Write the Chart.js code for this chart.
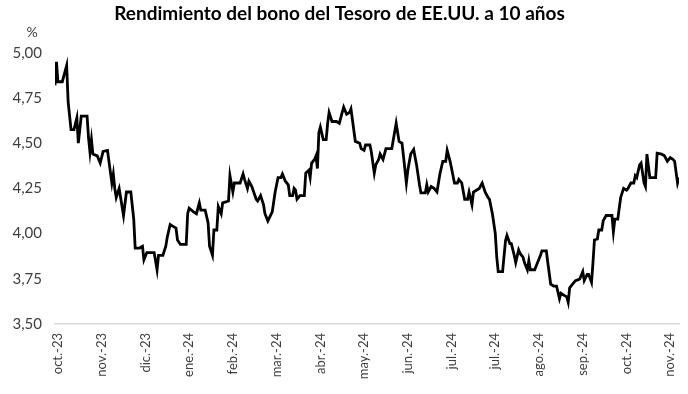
<!DOCTYPE html>
<html lang="es">
<head>
<meta charset="utf-8">
<title>Rendimiento del bono del Tesoro de EE.UU. a 10 años</title>
<script src="https://cdn.jsdelivr.net/npm/chart.js@4.4.1/dist/chart.umd.min.js"></script>
<style>
  html, body { margin: 0; padding: 0; background: #ffffff; }
  #wrap { width: 688px; height: 394px; }
</style>
</head>
<body>
<div id="wrap"><canvas id="yieldChart" width="688" height="394"></canvas></div>
<script>
/* ---------- DATA ---------- */
// days counted from the first axis label (oct.-23), one tick label every 30 days
const tickLabels = ["oct.-23", "nov.-23", "dic.-23", "ene.-24", "feb.-24", "mar.-24", "abr.-24",
  "may.-24", "jun.-24", "jul.-24", "jul.-24", "ago.-24", "sep.-24", "oct.-24", "nov.-24"];
const tickStep = 30;

const days = [-2, -1, 0, 3, 6, 7, 9, 11, 13, 14, 16, 20, 21, 22, 23, 24, 27, 29, 31, 34,
  36, 37, 38, 39, 40, 42, 43, 45, 47, 50, 52, 53, 56, 58, 59, 61, 66, 68, 69, 72,
  74, 75, 77, 79, 81, 82, 84, 88, 89, 90, 93, 95, 97, 98, 101, 103, 104, 106, 107, 109,
  110, 112, 113, 117, 118, 120, 121, 125, 127, 128, 130, 131, 133, 136, 137, 139, 141, 142, 144, 147,
  149, 151, 153, 154, 156, 158, 159, 161, 162, 163, 164, 166, 169, 170, 172, 173, 174, 176, 177, 178,
  179, 180, 182, 184, 185, 186, 188, 191, 193, 195, 196, 198, 200, 201, 202, 204, 207, 208, 210, 211,
  214, 215, 217, 218, 220, 221, 223, 225, 229, 232, 234, 236, 237, 239, 240, 242, 244, 246, 248, 249,
  252, 253, 254, 256, 258, 260, 262, 264, 266, 267, 269, 270, 272, 274, 275, 277, 279, 281, 282, 284,
  285, 287, 289, 291, 293, 295, 296, 298, 300, 301, 302, 305, 307, 308, 310, 311, 313, 314, 316, 317,
  319, 320, 322, 323, 324, 327, 329, 331, 332, 335, 336, 338, 340, 342, 344, 345, 347, 349, 350, 351,
  353, 355, 357, 358, 360, 361, 363, 364, 366, 367, 368, 370, 371, 373, 374, 376, 377, 380, 381, 382,
  384, 386, 388, 390, 391, 393, 395, 396, 397, 399, 400, 402, 403, 404, 406, 410, 411, 414, 416, 418,
  420, 422, 423, 425, 426];

const yields = [4.82, 4.95, 4.84, 4.84, 4.93, 4.73, 4.575, 4.575, 4.64, 4.50, 4.65, 4.65, 4.53, 4.45, 4.52, 4.44, 4.43, 4.39, 4.455, 4.46,
  4.34, 4.28, 4.33, 4.25, 4.20, 4.25, 4.20, 4.10, 4.23, 4.23, 4.08, 3.92, 3.92, 3.93, 3.855, 3.895, 3.895, 3.80, 3.88, 3.88,
  3.93, 3.98, 4.05, 4.04, 4.03, 3.965, 3.94, 3.94, 4.11, 4.14, 4.12, 4.11, 4.17, 4.13, 4.13, 4.06, 3.93, 3.88, 4.02, 4.02,
  4.15, 4.11, 4.17, 4.18, 4.32, 4.23, 4.28, 4.28, 4.33, 4.30, 4.25, 4.29, 4.26, 4.19, 4.18, 4.21, 4.16, 4.11, 4.07, 4.12,
  4.23, 4.31, 4.31, 4.33, 4.29, 4.27, 4.21, 4.21, 4.25, 4.24, 4.19, 4.21, 4.21, 4.335, 4.35, 4.31, 4.39, 4.41, 4.43, 4.36,
  4.56, 4.59, 4.52, 4.52, 4.61, 4.67, 4.62, 4.62, 4.61, 4.67, 4.70, 4.66, 4.67, 4.69, 4.63, 4.51, 4.50, 4.47, 4.46, 4.49,
  4.49, 4.45, 4.335, 4.38, 4.41, 4.44, 4.41, 4.47, 4.47, 4.61, 4.51, 4.50, 4.43, 4.28, 4.35, 4.44, 4.465, 4.38, 4.27, 4.225,
  4.225, 4.27, 4.23, 4.26, 4.25, 4.23, 4.33, 4.40, 4.40, 4.46, 4.40, 4.36, 4.28, 4.28, 4.30, 4.28, 4.19, 4.19, 4.23, 4.16,
  4.23, 4.24, 4.25, 4.28, 4.23, 4.20, 4.19, 4.11, 4.00, 3.87, 3.79, 3.79, 3.96, 3.99, 3.945, 3.945, 3.88, 3.84, 3.91, 3.89,
  3.87, 3.84, 3.80, 3.85, 3.80, 3.80, 3.84, 3.88, 3.905, 3.905, 3.84, 3.72, 3.71, 3.71, 3.64, 3.67, 3.66, 3.65, 3.62, 3.70,
  3.72, 3.74, 3.745, 3.75, 3.79, 3.74, 3.775, 3.775, 3.73, 3.84, 3.965, 3.97, 4.02, 4.02, 4.07, 4.10, 4.10, 4.10, 4.01, 4.08,
  4.08, 4.20, 4.25, 4.24, 4.25, 4.28, 4.28, 4.32, 4.31, 4.38, 4.39, 4.28, 4.26, 4.44, 4.31, 4.31, 4.445, 4.44, 4.43, 4.40,
  4.42, 4.41, 4.40, 4.28, 4.31];

const yMin = 3.5;
const yMax = 5.0;
const yStep = 0.25;

/* ---------- CHART ---------- */
const textColor = "#404040";
const fontFamily = "Lato, 'Open Sans', sans-serif";

// small "%" unit label above the y axis
const unitLabel = {
  id: "unitLabel",
  afterDraw(chart) {
    const ctx = chart.ctx;
    const y = chart.scales.y;
    ctx.save();
    ctx.font = "14px " + fontFamily;
    ctx.fillStyle = textColor;
    ctx.textAlign = "center";
    ctx.textBaseline = "middle";
    ctx.fillText("%", y.left + 32, y.top - 20);
    ctx.restore();
  }
};

document.addEventListener("DOMContentLoaded", function () {
  const ctx = document.getElementById("yieldChart").getContext("2d");

  new Chart(ctx, {
    type: "line",
    data: {
      datasets: [{
        label: "Rendimiento a 10 años",
        data: days.map((d, i) => ({ x: d, y: yields[i] })),
        borderColor: "#000000",
        borderWidth: 2.8,
        pointRadius: 0,
        tension: 0,
        fill: false
      }]
    },
    options: {
      responsive: false,
      animation: false,
      layout: { padding: { left: 0, right: 9, top: 0, bottom: 0 } },
      plugins: {
        legend: { display: false },
        tooltip: { enabled: false },
        title: {
          display: true,
          text: "Rendimiento del bono del Tesoro de EE.UU. a 10 años",
          color: "#000000",
          font: { family: fontFamily, size: 19, weight: "bold" },
          padding: { top: 2, bottom: 28 }
        }
      },
      scales: {
        x: {
          type: "linear",
          min: days[0],
          max: days[days.length - 1],
          afterBuildTicks(axis) {
            axis.ticks = tickLabels.map((_, i) => ({ value: i * tickStep }));
          },
          afterFit(axis) {
            axis.height = 70;
            axis.paddingLeft = 0;
            axis.paddingRight = 0;
          },
          grid: { display: false, drawTicks: false },
          border: { display: true, color: "#d9d9d9", width: 1.5 },
          ticks: {
            autoSkip: false,
            maxRotation: 90,
            minRotation: 90,
            padding: 9,
            color: textColor,
            font: { family: fontFamily, size: 13 },
            callback: (value, index) => tickLabels[index]
          }
        },
        y: {
          min: yMin,
          max: yMax,
          afterFit(axis) { axis.width = 55; },
          grid: { display: false, drawTicks: false },
          border: { display: false },
          ticks: {
            stepSize: yStep,
            padding: 13,
            color: textColor,
            font: { family: fontFamily, size: 15 },
            callback: (value) => value.toFixed(2).replace(".", ",")
          }
        }
      }
    },
    plugins: [unitLabel]
  });
});
</script>
</body>
</html>
